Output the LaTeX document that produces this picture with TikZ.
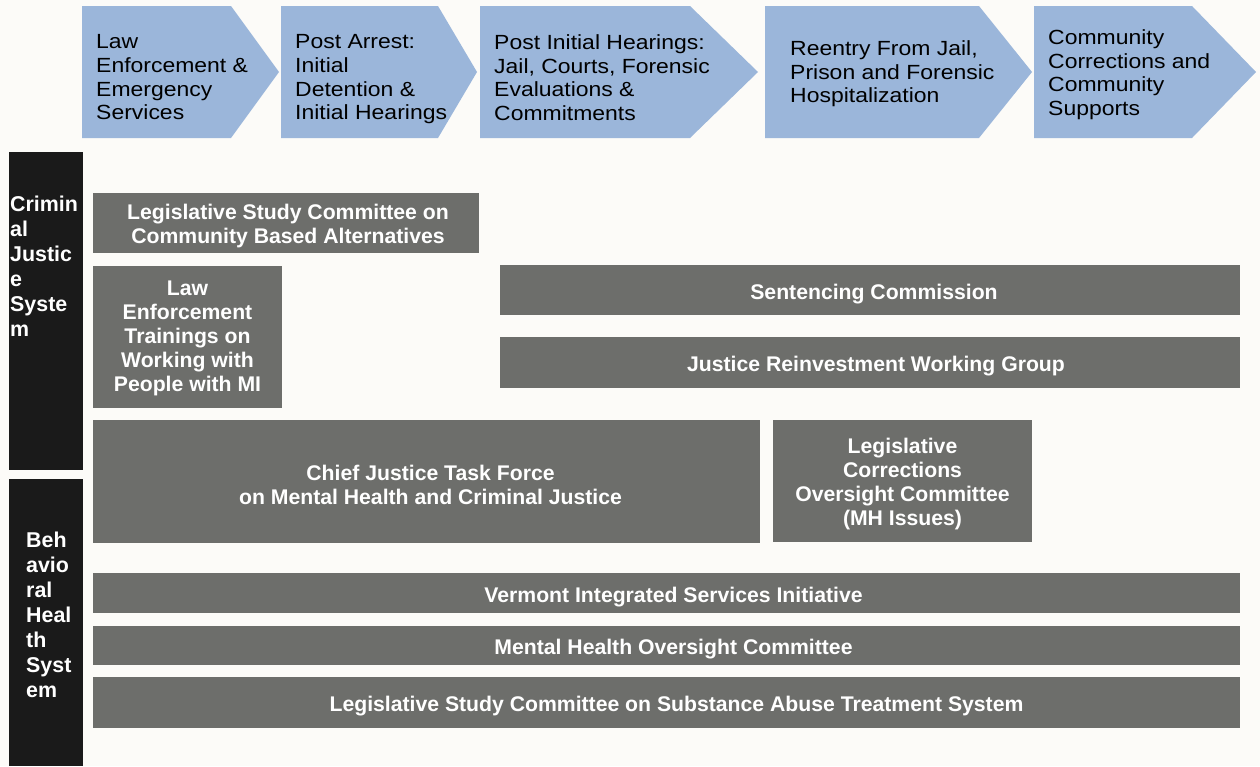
\documentclass[tikz,border=0pt]{standalone}
\usepackage{fontspec}
\setmainfont{Liberation Sans}
\newfontfamily\stagefont[FakeStretch=1.12]{Liberation Sans}

\definecolor{paper}{HTML}{FCFBF8}
\definecolor{stageblue}{HTML}{9BB6DA}
\definecolor{panelgrey}{HTML}{6D6E6B}
\definecolor{sidebarblack}{HTML}{1A1A1A}

\tikzset{
  stage/.style={fill=stageblue, draw=none},
  stagetext/.style={anchor=north west, align=left, inner sep=0pt,
    font=\stagefont\fontsize{20.5}{23.7}\selectfont, text=black},
  panelbox/.style={fill=panelgrey, draw=none, inner sep=0pt},
  paneltext/.style={align=center, inner sep=0pt, text=white,
    font=\bfseries\fontsize{21.2}{24}\selectfont},
  sidebar/.style={fill=sidebarblack, draw=none, inner sep=0pt},
  sidetext/.style={anchor=north west, align=left, inner sep=0pt, text=white,
    font=\bfseries\fontsize{21.4}{25}\selectfont},
}

% chevron: name, left x, shoulder x, tip x, text x, text top, text
\newcommand\stagearrow[7]{%
  \fill[stage] (#2,6) -- (#3,6) -- (#4,72) -- (#3,138) -- (#2,138) -- cycle;
  \node[stagetext] (#1) at (#5,#6) {#7};
}
% grey panel: name, x1, y1, x2, y2, text dx, text dy, text
\newcommand\panel[8]{%
  \node[panelbox, minimum width=#4pt-#2pt, minimum height=#5pt-#3pt]
    (#1) at ({(#2+#4)/2},{(#3+#5)/2}) {};
  \node[paneltext] (#1-label) at ([xshift=#6pt, yshift=#7pt]#1.center) {#8};
}

\begin{document}
\begin{tikzpicture}[x=1pt,y=-1pt]
  \fill[paper] (0,0) rectangle (1260,766);
  \useasboundingbox (0,0) rectangle (1260,766);

  % process stages along the top
  \stagearrow{s1}{82}{231}{279}{96}{34.5}{Law\\Enforcement \&\\Emergency\\Services}
  \stagearrow{s2}{281}{438}{477}{295}{34.5}{Post Arrest:\\Initial\\Detention \&\\Initial Hearings}
  \stagearrow{s3}{480}{690}{758}{494}{34.5}{Post Initial Hearings:\\Jail, Courts, Forensic\\Evaluations \&\\Commitments}
  \stagearrow{s4}{765}{979}{1032}{790}{40.5}{Reentry From Jail,\\Prison and Forensic\\Hospitalization}
  \stagearrow{s5}{1034}{1192}{1256}{1048}{29.5}{Community\\Corrections and\\Community\\Supports}

  % system sidebars
  \node[sidebar, minimum width=74pt, minimum height=318pt] (cjs) at (46,311) {};
  \node[sidetext] (cjs-label) at (10,196) {Crimin\\al\\Justic\\e\\Syste\\m};
  \node[sidebar, minimum width=74pt, minimum height=287pt] (bhs) at (46,622.5) {};
  \node[sidetext] (bhs-label) at (26,532) {Beh\\avio\\ral\\Heal\\th\\Syst\\em};

  % committees and initiatives
  \panel{lscba}{93}{193}{479}{253}{2}{-3}{Legislative Study Committee on\\Community Based Alternatives}
  \panel{letrain}{93}{266}{282}{408}{0}{-1.5}{Law\\Enforcement\\Trainings on\\Working with\\People with MI}
  \panel{sentencing}{500}{265}{1240}{315}{4}{-4}{Sentencing Commission}
  \panel{jrwg}{500}{337}{1240}{388}{6}{-4}{Justice Reinvestment Working Group}
  \panel{cjtf}{93}{420}{760}{543}{4}{-3}{Chief Justice Task Force\\on Mental Health and Criminal Justice}
  \panel{lcoc}{773}{420}{1032}{542}{0}{-3}{Legislative\\Corrections\\Oversight Committee\\(MH Issues)}
  \panel{visi}{93}{573}{1240}{613}{7}{-4}{Vermont Integrated Services Initiative}
  \panel{mhoc}{93}{626}{1240}{665}{7}{-4}{Mental Health Oversight Committee}
  \panel{lssa}{93}{677}{1240}{728}{10}{-4}{Legislative Study Committee on Substance Abuse Treatment System}
\end{tikzpicture}
\end{document}
